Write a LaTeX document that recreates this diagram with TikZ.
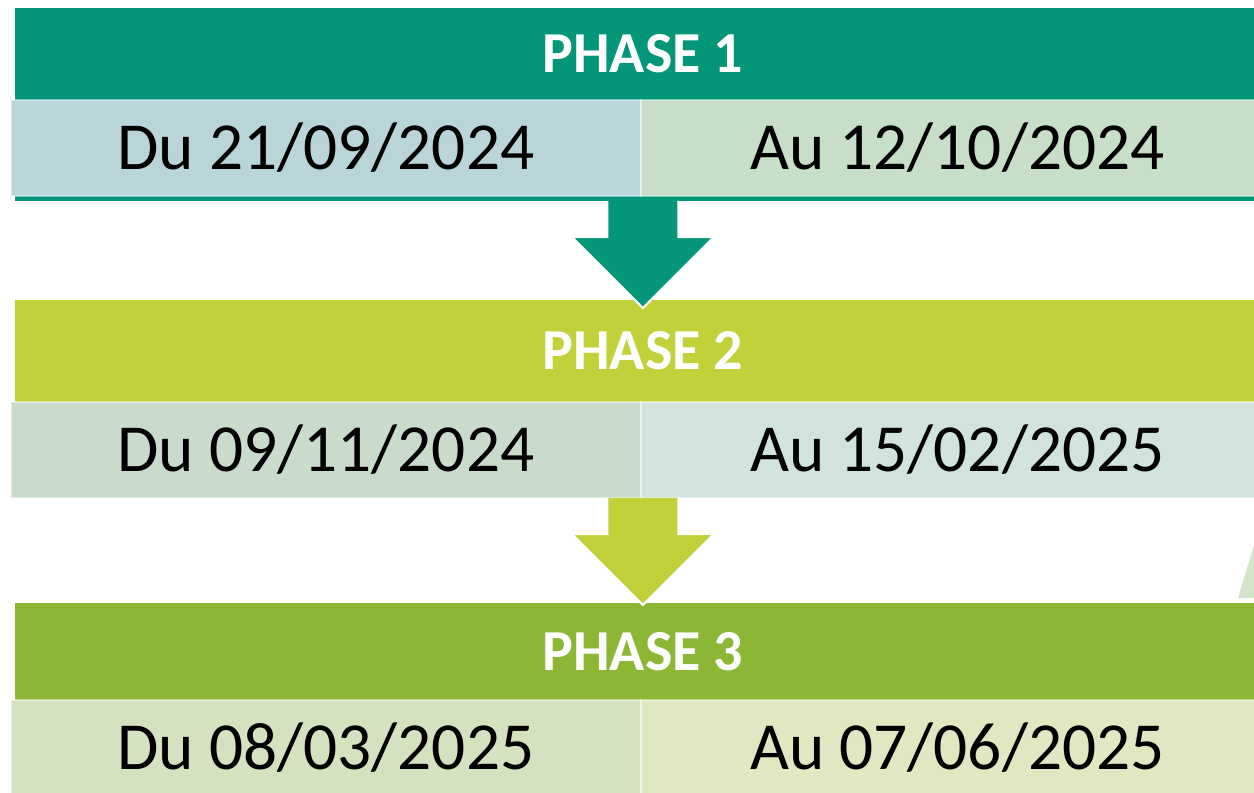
\documentclass[tikz,border=0pt]{standalone}
\usepackage{fontspec}
\setmainfont{Carlito}
\usetikzlibrary{calc}

\definecolor{phone}{HTML}{039678}
\definecolor{phtwo}{HTML}{C2D13A}
\definecolor{phthree}{HTML}{8BB734}
\definecolor{dateonel}{HTML}{BAD5DA}
\definecolor{dateoner}{HTML}{C7DEC7}
\definecolor{datetwol}{HTML}{C9DCCB}
\definecolor{datetwor}{HTML}{D0E4DB}
\definecolor{datethreel}{HTML}{D4E2C0}
\definecolor{datethreer}{HTML}{E0E8C2}
\definecolor{faint}{HTML}{D2E5CA}

\tikzset{
	phasehead/.style={fill=#1, text=white, font=\fontsize{33}{39}\selectfont\bfseries,
		minimum width=25.12cm, inner sep=0pt, outer sep=0pt, anchor=north west},
	datecell/.style={fill=#1, draw=white, draw opacity=0.45, line width=1.2pt,
		font=\fontsize{38.3}{45}\selectfont, minimum height=1.92cm,
		inner sep=0pt, outer sep=0pt, anchor=north west}
}

\newcommand{\phasearrow}[2]{%
	\draw[white, line width=1.2pt, fill=#2] ($(#1)+(-35.5,0)$) -- ++(0,36)
	-- ++(-35.5,0) -- ++(71,71) -- ++(71,-71) -- ++(-35.5,0) -- ++(0,-36);}

\begin{document}
\begin{tikzpicture}[x=0.02cm, y=-0.02cm]

	\clip (0,0) rectangle (1254,792);
	\fill[white] (0,0) rectangle (1254,792);

	\fill[faint] (1254,545) -- (1238,598) -- (1254,598) -- cycle;

	% phase 1
	\node[phasehead=phone, minimum height=1.84cm] (h1) at (15,8) {PHASE 1};
	\fill[phone] (h1.south west) rectangle ($(h1.south east)+(0,101)$);
	\coordinate (t1) at ($(h1.south)+(0,101)$);
	\node[datecell=dateonel, minimum width=12.6cm] (a1) at (11,100) {Du 21/09/2024};
	\node[datecell=dateoner, minimum width=12.66cm] (b1) at (a1.north east) {Au 12/10/2024};

	% phase 2
	\node[phasehead=phtwo, minimum height=2.04cm] (h2) at (15,300) {PHASE 2};
	\node[datecell=datetwol, minimum width=12.6cm] (a2) at (11,402) {Du 09/11/2024};
	\node[datecell=datetwor, minimum width=12.66cm] (b2) at (a2.north east) {Au 15/02/2025};
	\coordinate (t2) at (h2.south |- a2.south);

	% phase 3
	\node[phasehead=phthree, minimum height=1.94cm] (h3) at (15,603) {PHASE 3};
	\node[datecell=datethreel, minimum width=12.6cm] (a3) at (11,700) {Du 08/03/2025};
	\node[datecell=datethreer, minimum width=12.66cm] (b3) at (a3.north east) {Au 07/06/2025};

	\phasearrow{t1}{phone}
	\phasearrow{t2}{phtwo}

\end{tikzpicture}
\end{document}
